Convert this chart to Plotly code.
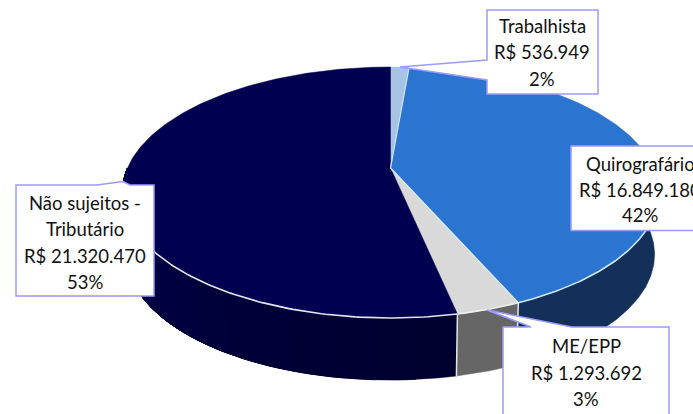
import numpy as np
import plotly.graph_objects as go

categories = ["Trabalhista", "Quirografário", "ME/EPP", "Não sujeitos - Tributário"]
values = [536949, 16849180, 1293692, 21320470]
value_labels = ["R$ 536.949", "R$ 16.849.180", "R$ 1.293.692", "R$ 21.320.470"]
percent_labels = ["2%", "42%", "3%", "53%"]

top_colors = ["#a6c3e4", "#2b74cf", "#d9d9d9", "#000050"]
side_colors = ["#5d7490", "#12305a", "#666666", "#000032"]

CX, CY, R, S, K, DEPTH, SHRINK = 390.5, 168, 263, 120.7, 0.195, 62, 0.985


def rim(theta, depth=0.0, shrink=1.0):
    u, v = np.sin(theta), np.cos(theta)
    w = 1 + K * v
    return CX + shrink * R * u / w, CY - S * v / w + depth


fig = go.Figure()


def poly(x, y, fill):
    fig.add_trace(go.Scatter(
        x=x, y=y, mode="lines", fill="toself", fillcolor=fill,
        line=dict(color=fill, width=0.5), hoverinfo="skip", showlegend=False))


def stroke(x, y, color, width=1.5):
    fig.add_trace(go.Scatter(x=x, y=y, mode="lines", line=dict(color=color, width=width),
                             hoverinfo="skip", showlegend=False))


fractions = np.cumsum([0] + values) / sum(values)
angles = fractions * 2 * np.pi

# walls: visible lower half only
for i in range(len(values)):
    a0, a1 = max(angles[i], np.pi / 2), min(angles[i + 1], 3 * np.pi / 2)
    if a1 <= a0:
        continue
    if i == 3:
        # navy wall shades from near black at the front to a bluer tone at the left;
        # each band is painted over the previous one so no seams show
        edges = np.linspace(a0, a1, 15)
        for j in range(len(edges) - 1):
            t = np.linspace(edges[j], a1, 120)
            x0, y0 = rim(t)
            x1, y1 = rim(t[::-1], DEPTH, SHRINK)
            blue = int(46 + 30 * j / (len(edges) - 2))
            poly(np.r_[x0, x1], np.r_[y0, y1], f"rgb(0,0,{blue})")
    else:
        t = np.linspace(a0, a1, 120)
        x0, y0 = rim(t)
        x1, y1 = rim(t[::-1], DEPTH, SHRINK)
        poly(np.r_[x0, x1], np.r_[y0, y1], side_colors[i])

# vertical seams on the wall
for a in (angles[2], angles[3]):
    xa, ya = rim(np.array([a, a]), np.array([0, DEPTH]), np.array([1, SHRINK]))
    stroke(xa, ya, "#e6e6e6", 1.5)

# top slices
for i in range(len(values)):
    t = np.linspace(angles[i], angles[i + 1], 200)
    x, y = rim(t)
    poly(np.r_[CX, x, CX], np.r_[CY, y, CY], top_colors[i])

# light radial seams
for idx, col in ((1, "#cfe6fa"), (2, "#dbe9f8")):
    xs, ys = rim(np.array([angles[idx]]))
    stroke([CX, xs[0]], [CY, ys[0]], col, 1.3)

# light front rim
t = np.linspace(np.radians(103), angles[2], 100)
stroke(*rim(t), "#cfe6fa", 1.6)
t = np.linspace(angles[2], angles[3], 20)
stroke(*rim(t), "#eeeeee", 1.6)
t = np.linspace(angles[3], np.radians(258), 120)
stroke(*rim(t), "#e4e4f0", 1.6)

BORDER = "#9a9aff"
shapes = [
    "M487,10 L598,10 L598,94 L487,94 L487,80 L400,67 L487,60 Z",
    "M571,146 L720,146 L720,230.5 L571,230.5 Z",
    "M503,327 L531,327 L487,310 L572,327 L669,327 L669,430 L503,430 Z",
    "M16,185 L97,185 L123,181.5 L130,185 L154,185 L154,296 L16,296 Z",
]
for p in shapes:
    fig.add_shape(type="path", path=p, xref="x", yref="y", fillcolor="white",
                  line=dict(color=BORDER, width=1.5), layer="above")

text_lines = [
    (542, [(26, categories[0]), (52, value_labels[0]), (79, percent_labels[0])]),
    (640, [(164, categories[1]), (190, value_labels[1]), (215, percent_labels[1])]),
    (586, [(346, categories[2]), (373, value_labels[2]), (399, percent_labels[2])]),
    (85, [(203, "Não sujeitos -"), (229, "Tributário"), (256, value_labels[3]), (282, percent_labels[3])]),
]
for cx, lines in text_lines:
    for yy, txt in lines:
        fig.add_annotation(x=cx, y=yy, text=txt, showarrow=False, xref="x", yref="y",
                           xanchor="center", yanchor="middle",
                           font=dict(family="Lato, Carlito, sans-serif", size=18.5, color="#111111"))

fig.update_layout(
    width=693, height=414, margin=dict(l=0, r=0, t=0, b=0),
    paper_bgcolor="white", plot_bgcolor="white", showlegend=False,
    xaxis=dict(range=[0, 693], visible=False, fixedrange=True),
    yaxis=dict(range=[414, 0], visible=False, fixedrange=True),
)
fig.write_html("out.html", config={"displayModeBar": False},
               post_script="document.body.style.margin='0';document.body.style.overflow='hidden';")
